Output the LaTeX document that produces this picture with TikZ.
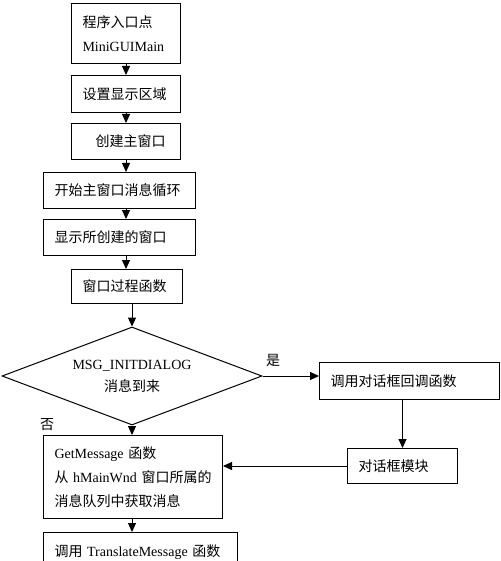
\documentclass[tikz,border=0pt]{standalone}
\usepackage{fontspec}
\setmainfont{Liberation Serif}
\newfontfamily\cjk{Noto Sans CJK SC}
\usetikzlibrary{arrows.meta,shapes.geometric}
\begin{document}
\begin{tikzpicture}[x=1pt,y=-1pt,line width=1pt,
  font=\fontsize{14}{24}\selectfont,
  stepbox/.style={draw,anchor=north west,align=left,inner xsep=11pt,inner ysep=0pt},
  choice/.style={draw,diamond,shape aspect=2.65,minimum width=260pt,minimum height=98pt,inner sep=0pt,align=center},
  arr/.style={-{Triangle[length=9pt,width=8pt]}}]
\clip (0,0) rectangle (500,561); % adjust bounding box
\node[stepbox,text width=87pt,minimum height=60pt] (b1) at (71,3) {{\cjk 程序入口点}\\MiniGUIMain};
\node[stepbox,text width=87pt,minimum height=37pt] (b2) at (71,75) {\cjk 设置显示区域};
\node[stepbox,inner xsep=24pt,text width=61pt,minimum height=36pt] (b3) at (71,123) {\cjk 创建主窗口};
\node[stepbox,text width=130pt,minimum height=36pt] (b4) at (43,172) {\cjk 开始主窗口消息循环};
\node[stepbox,text width=130pt,minimum height=36pt] (b5) at (43,219) {\cjk 显示所创建的窗口};
\node[stepbox,text width=89pt,minimum height=34pt] (b6) at (71,269) {\cjk 窗口过程函数};
\node[choice] (d) at (132,376) {MSG\_INITDIALOG\\[-2pt]{\cjk 消息到来}};
\node[stepbox,text width=158pt,minimum height=37pt] (b7) at (319,362) {\cjk 调用对话框回调函数};
\node[stepbox,text width=88pt,minimum height=35pt] (b8) at (347,448) {\cjk 对话框模块};
\node[stepbox,text width=157pt,minimum height=83pt] (b9) at (43,435)
  {GetMessage {\cjk 函数}\\\mbox{{\cjk 从} hMainWnd {\cjk 窗口所属的}}\\{\cjk 消息队列中获取消息}};
\node[stepbox,text width=172pt,minimum height=40pt] (b10) at (43,532) {{\cjk 调用} TranslateMessage {\cjk 函数}};
\node (no) at (47,425) {\cjk 否};
\draw[arr] (b1) -- (b2);
\draw[arr] (b2) -- (b3);
\draw[arr] (b3) -- (b3 |- b4.north);
\draw[arr] (b4.south -| b1) -- (b5.north -| b1);
\draw[arr] (b5.south -| b1) -- (b6.north -| b1);
\draw[arr] (b6.south -| d.north) -- (d.north);
\draw[arr] (d.east) -- (d.east -| b7.west) node[pos=0.19,above=6pt] {\cjk 是};
\draw[arr] (b7.south -| b8) -- (b8);
\draw[arr] (b8) -- (b8 -| b9.east);
\draw[arr] (d.south) -- (d.south |- b9.north);
\draw[arr] (b9.south -| d) -- (b10.north -| d);
\end{tikzpicture}
\end{document}
